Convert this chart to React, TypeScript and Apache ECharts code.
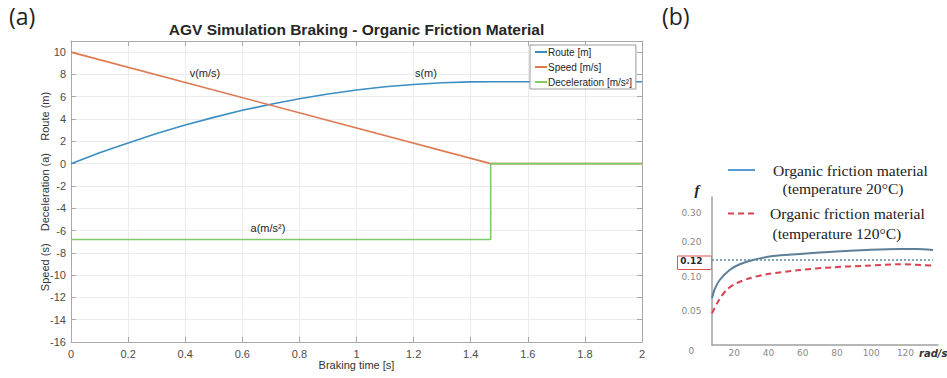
import React, { useEffect, useRef } from "react";
import * as echarts from "echarts";

// ---------- Panel (a): AGV braking simulation ----------
const ROUTE_T = [0, 0.1, 0.2, 0.3, 0.4, 0.5, 0.6, 0.7, 0.8, 0.9, 1.0, 1.1, 1.2, 1.3, 1.4, 1.47, 1.6, 1.8, 2.0];
const ROUTE_S = [0, 0.97, 1.86, 2.7, 3.46, 4.15, 4.78, 5.33, 5.82, 6.25, 6.6, 6.89, 7.1, 7.25, 7.33, 7.35, 7.35, 7.35, 7.35];
const SPEED_T = [0, 1.47, 2.0];
const SPEED_V = [10, 0, 0];
const DECEL_T = [0, 1.47, 1.47, 2.0];
const DECEL_A = [-6.8, -6.8, 0, 0];
const SERIES_NAMES = ["Route [m]", "Speed [m/s]", "Deceleration [m/s²]"];
const ANNOT_LABELS = ["s(m)", "v(m/s)", "a(m/s²)"];
const ANNOT_COORDS: [number, number][] = [[1.243, 8.14], [0.469, 8.14], [0.69, -5.78]];

// ---------- Panel (b): friction coefficient vs angular speed ----------
const OMEGA_20 = [7, 8.6, 11.5, 17.3, 23.2, 31, 42.6, 58.2, 77.5, 97.2, 116.6, 126.4, 136.1];
const F_20 = [0.0685, 0.082, 0.0952, 0.108, 0.1149, 0.12, 0.1375, 0.1462, 0.1563, 0.1637, 0.1681, 0.1681, 0.1637];
const OMEGA_120 = [7, 10.5, 15.4, 21.3, 29, 38.8, 58.2, 77.7, 97.2, 116.6, 136.1];
const F_120 = [0.0466, 0.0636, 0.0806, 0.0904, 0.0977, 0.1029, 0.108, 0.1113, 0.1132, 0.1149, 0.1132];
const F_REF = 0.12;
const F_REF_RANGE = [7, 136];
const OMEGA_TICKS = [20, 40, 60, 80, 100, 120];
const F_TICKS = [0, 0.05, 0.1, 0.12, 0.2, 0.3];
const F_TICK_LABELS = ["0", "0.05", "0.10", "0.12", "0.20", "0.30"];
// the schematic's non-uniform vertical scale: offset (px) of each tick above the axis
const F_TICK_POS = [0, 34, 68.3, 85, 103.3, 131.7];

function fToPos(f: number): number {
  for (let i = 1; i < F_TICKS.length; i++) {
    if (f <= F_TICKS[i] || i === F_TICKS.length - 1) {
      const a = F_TICKS[i - 1], b = F_TICKS[i];
      return F_TICK_POS[i - 1] + ((f - a) / (b - a)) * (F_TICK_POS[i] - F_TICK_POS[i - 1]);
    }
  }
  return 0;
}

const zip = (xs: number[], ys: number[]) => xs.map((x, i) => [x, ys[i]]);
const zipF = (xs: number[], ys: number[]) => xs.map((x, i) => [x, fToPos(ys[i])]);

const SANS = "Liberation Sans, Arial, sans-serif";
const AX = "#a8a8a8";

export default function App() {
  const ref = useRef<HTMLDivElement>(null);
  useEffect(() => {
    document.body.style.margin = "0";
    const chart = echarts.init(ref.current!, null, { renderer: "svg" });
    const colorsA = ["#3b8dc2", "#dd7a52", "#7fca68"];
    const dataA = [zip(ROUTE_T, ROUTE_S), zip(SPEED_T, SPEED_V), zip(DECEL_T, DECEL_A)];

    const axisA = {
      type: "value" as const,
      axisLine: { show: true, onZero: false, lineStyle: { color: AX, width: 1 } },
      axisTick: { show: true, inside: true, length: 5, lineStyle: { color: AX } },
      splitLine: { show: false },
    };

    const option: any = {
      animation: false,
      backgroundColor: "#ffffff",
      title: {
        text: "AGV Simulation Braking - Organic Friction Material",
        left: 356.5,
        textAlign: "center",
        top: 21,
        padding: 0,
        textStyle: { fontFamily: SANS, fontSize: 15.5, fontWeight: "bold", color: "#262626" },
      },
      legend: {
        data: SERIES_NAMES,
        orient: "vertical",
        left: 530,
        top: 45,
        padding: [1, 4, 1, 5],
        itemGap: 3,
        itemWidth: 12,
        itemHeight: 2,
        icon: "rect",
        borderColor: "#9a9a9a",
        borderWidth: 1,
        backgroundColor: "#ffffff",
        selectedMode: false,
        textStyle: { fontFamily: SANS, fontSize: 10, color: "#262626", padding: [0, 0, 0, -4], lineHeight: 12 },
      },
      grid: [
        { left: 71, right: 305, top: 41, bottom: 36 },
        { left: 712, right: 9, top: 197, bottom: 33 },
      ],
      xAxis: [
        {
          ...axisA,
          gridIndex: 0,
          min: 0,
          max: 2,
          interval: 0.2,
          position: "bottom",
          axisLabel: { fontFamily: SANS, fontSize: 11, color: "#4d4d4d", margin: 6 },
          splitLine: { show: true, lineStyle: { color: "#ececec" } },
          name: "Braking time [s]",
          nameLocation: "middle",
          nameGap: 17,
          nameMoveOverlap: false,
          nameTextStyle: { fontFamily: SANS, fontSize: 11, color: "#333333" },
        },
        { ...axisA, gridIndex: 0, min: 0, max: 2, interval: 0.2, position: "top", axisLabel: { show: false } },
        {
          type: "value",
          gridIndex: 1,
          min: 7,
          max: 139,
          axisLine: { show: true, onZero: false, lineStyle: { color: "#a0a0a0", width: 1.5 } },
          axisTick: { show: false },
          splitLine: { show: false },
          axisLabel: {
            customValues: OMEGA_TICKS,
            fontFamily: "DejaVu Sans, sans-serif",
            fontSize: 9,
            color: "#8a8a8a",
            margin: 3,
          },
        },
      ],
      yAxis: [
        {
          ...axisA,
          gridIndex: 0,
          min: -16,
          max: 11,
          interval: 2,
          position: "left",
          axisLabel: { fontFamily: SANS, fontSize: 11, color: "#4d4d4d", margin: 5, showMaxLabel: false },
          splitLine: { show: true, lineStyle: { color: "#ececec" } },
          name: "Speed (s)    Deceleration (a)    Route (m)",
          nameLocation: "middle",
          nameRotate: 90,
          nameGap: 21,
          nameMoveOverlap: false,
          nameTextStyle: { fontFamily: SANS, fontSize: 11, color: "#333333" },
        },
        { ...axisA, gridIndex: 0, min: -16, max: 11, interval: 2, position: "right", axisLabel: { show: false } },
        {
          type: "value",
          gridIndex: 1,
          min: 0,
          max: 148,
          axisLine: { show: true, onZero: false, lineStyle: { color: "#a0a0a0", width: 1.5 } },
          axisTick: { show: false },
          splitLine: { show: false },
          axisLabel: {
            customValues: F_TICK_POS,
            align: "center",
            margin: 20.6,
            fontFamily: "DejaVu Sans, sans-serif",
            fontSize: 9,
            color: "#8a8a8a",
            formatter: (v: number) => {
              const i = F_TICK_POS.findIndex((p) => Math.abs(p - v) < 0.05);
              if (i < 0) return "";
              const t = F_TICK_LABELS[i];
              if (F_TICKS[i] === F_REF) return "{b|" + t + "}";
              if (F_TICKS[i] === 0) return "{z|" + t + "}";
              return t;
            },
            rich: {
              b: { fontFamily: "DejaVu Sans, sans-serif", fontSize: 9, fontWeight: "bold", color: "#2a2a2a", padding: [2, 0, 0, 0] },
              z: { fontFamily: "DejaVu Sans, sans-serif", fontSize: 9, color: "#8a8a8a", padding: [12, 0, 0, 0] },
            },
          },
        },
      ],
      series: [
        ...SERIES_NAMES.map((name, k) => ({
          name,
          type: "line",
          xAxisIndex: 0,
          yAxisIndex: 0,
          data: dataA[k],
          symbol: "none",
          lineStyle: { color: colorsA[k], width: 1.6 },
          itemStyle: { color: colorsA[k] },
          z: 3 + k,
          markPoint: {
            symbol: "circle",
            symbolSize: 1,
            itemStyle: { color: "rgba(0,0,0,0)" },
            label: {
              show: true,
              position: "inside",
              formatter: ANNOT_LABELS[k],
              fontFamily: SANS,
              fontSize: 11,
              color: "#262626",
            },
            data: [{ coord: ANNOT_COORDS[k] }],
          },
        })),
        {
          name: "Organic friction material (temperature 20°C)",
          type: "line",
          xAxisIndex: 2,
          yAxisIndex: 2,
          data: zipF(OMEGA_20, F_20),
          symbol: "none",
          smooth: 0.3,
          lineStyle: { color: "#5c7e98", width: 2 },
          z: 4,
        },
        {
          name: "Organic friction material (temperature 120°C)",
          type: "line",
          xAxisIndex: 2,
          yAxisIndex: 2,
          data: zipF(OMEGA_120, F_120),
          symbol: "none",
          smooth: 0.3,
          lineStyle: { color: "#d8434f", width: 2, type: [6, 4] },
          z: 4,
        },
        {
          name: "f = 0.12",
          type: "line",
          xAxisIndex: 2,
          yAxisIndex: 2,
          data: [[F_REF_RANGE[0], fToPos(F_REF)], [F_REF_RANGE[1], fToPos(F_REF)]],
          symbol: "none",
          lineStyle: { color: "#5f8a9c", width: 1.3, type: [2, 2] },
          z: 3,
        },
      ],
      graphic: [
        { type: "text", left: 9, top: 4, style: { text: "(a)", font: "23px 'Open Sans', sans-serif", fill: "#222" } },
        { type: "text", left: 662, top: 4, style: { text: "(b)", font: "23px 'Open Sans', sans-serif", fill: "#222" } },
        {
          type: "text",
          x: 697,
          y: 190,
          style: { text: "f", font: "italic bold 15px 'Liberation Serif', serif", fill: "#222", align: "center", verticalAlign: "middle" },
        },
        {
          type: "text",
          x: 919,
          y: 353,
          style: { text: "rad/s", font: "italic bold 10px 'DejaVu Sans', sans-serif", fill: "#333", align: "left", verticalAlign: "middle" },
        },
        {
          type: "rect",
          shape: { x: 677.5, y: 256, width: 34, height: 13.5 },
          style: { fill: "none", stroke: "#d9534f", lineWidth: 1 },
        },
        // legend of panel (b)
        { type: "line", shape: { x1: 728, y1: 170, x2: 755, y2: 170 }, style: { stroke: "#5b9bd5", lineWidth: 2 } },
        {
          type: "text", x: 773, y: 170,
          style: { text: "Organic friction material", font: "15.6px 'Liberation Serif', serif", fill: "#222", verticalAlign: "middle" },
        },
        {
          type: "text", x: 782.5, y: 188.5,
          style: { text: "(temperature 20°C)", font: "15.6px 'Liberation Serif', serif", fill: "#222", verticalAlign: "middle" },
        },
        {
          type: "line", shape: { x1: 728, y1: 213.5, x2: 755, y2: 213.5 },
          style: { stroke: "#d8434f", lineWidth: 2, lineDash: [6, 4] },
        },
        {
          type: "text", x: 770, y: 213,
          style: { text: "Organic friction material", font: "15.6px 'Liberation Serif', serif", fill: "#222", verticalAlign: "middle" },
        },
        {
          type: "text", x: 772.5, y: 233.5,
          style: { text: "(temperature 120°C)", font: "15.6px 'Liberation Serif', serif", fill: "#222", verticalAlign: "middle" },
        },
      ],
    };
    chart.setOption(option);
    return () => chart.dispose();
  }, []);
  return <div ref={ref} style={{ width: 947, height: 378 }} />;
}
